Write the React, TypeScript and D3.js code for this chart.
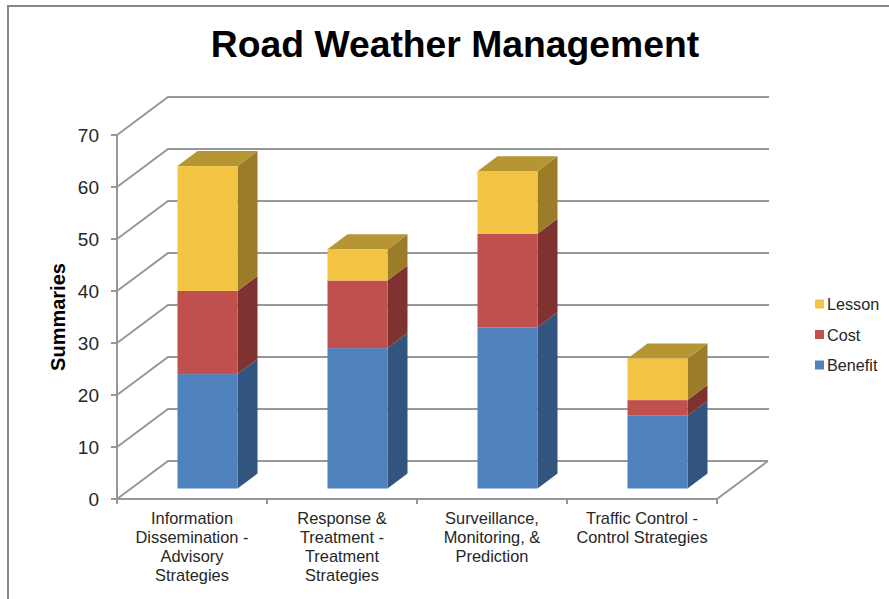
import React from "react";
import * as d3 from "d3";

const categories = [
  ["Information", "Dissemination -", "Advisory", "Strategies"],
  ["Response &", "Treatment -", "Treatment", "Strategies"],
  ["Surveillance,", "Monitoring, &", "Prediction"],
  ["Traffic Control -", "Control Strategies"],
];
const benefit = [22, 27, 31, 14];
const cost = [16, 13, 18, 3];
const lesson = [24, 6, 12, 8];
const seriesNames = ["Benefit", "Cost", "Lesson"];
const yTicks = [0, 10, 20, 30, 40, 50, 60, 70];

const front = ["#4f81bd", "#c0504d", "#f3c443"];
const side = ["#31557f", "#7f322f", "#9a7c29"];
const top = ["#3d648f", "#913c3a", "#b59632"];
const GRID = "#979797";
const TEXT = "#262626";

export default function App() {
  const y = d3.scaleLinear().domain([0, 70]).range([499, 135]);
  const x = d3.scaleLinear().domain([0, 4]).range([117, 717]);
  const wallDx = 51, wallDy = -38;
  const barDx = 20, barDy = -15;
  const barInset = 60.5, barW = 60, baseShift = -10.5;
  const table = categories.map((_, i) => ({ i, Benefit: benefit[i], Cost: cost[i], Lesson: lesson[i] }));
  const stacked = d3.stack<any>().keys(seriesNames)(table);

  return (
    <svg width={889} height={599} style={{ position: "absolute", left: 0, top: 0, background: "#fff" }}
      fontFamily="Liberation Sans, Arial, sans-serif">
      <path d="M8 599V6H889" fill="none" stroke="#868686" strokeWidth={2} />
      <text x={455} y={57} textAnchor="middle" fontSize={37.3} fontWeight={700} fill="#000">Road Weather Management</text>
      <text transform="translate(65,317) rotate(-90)" textAnchor="middle" fontSize={20} fontWeight={700} fill="#000">Summaries</text>

      {/* walls and grid */}
      {yTicks.map((t) => (
        <g key={t}>
          <path d={`M${x(0)} ${y(t)}L${x(0) + wallDx} ${y(t) + wallDy}H${t === 0 ? x(4) + wallDx : 769}`}
            fill="none" stroke={GRID} strokeWidth={2} />
          <line x1={x(0) - 6} x2={x(0)} y1={y(t)} y2={y(t)} stroke={GRID} strokeWidth={2} />
          <text x={99} y={y(t) + 7} textAnchor="end" fontSize={19} fill={TEXT}>{t}</text>
        </g>
      ))}
      <path d={`M${x(4)} ${y(0)}L${x(4) + wallDx} ${y(0) + wallDy}`} fill="none" stroke={GRID} strokeWidth={2} />
      <path d={`M${x(0)} ${y(70)}V${y(0)}H${x(4)}`} fill="none" stroke={GRID} strokeWidth={2} />
      {d3.range(5).map((i) => (
        <line key={i} x1={x(i)} x2={x(i)} y1={y(0)} y2={y(0) + 5} stroke={GRID} strokeWidth={2} />
      ))}

      {/* bars */}
      {stacked.map((s, si) => s.map((d, i) => {
        const x0 = x(i) + barInset;
        const x1 = x0 + barW;
        const y0 = y(d[0]) + baseShift;
        const y1 = y(d[1]) + baseShift;
        return (
          <g key={`${si}-${i}`}>
            <path d={`M${x1} ${y0}L${x1 + barDx} ${y0 + barDy}V${y1 + barDy}L${x1} ${y1}Z`} fill={side[si]} />
            <rect x={x0} y={y1} width={barW} height={y0 - y1} fill={front[si]} />
            {si === stacked.length - 1 ? (
              <path d={`M${x0} ${y1}L${x0 + barDx} ${y1 + barDy}H${x1 + barDx}L${x1} ${y1}Z`} fill={top[si]} />
            ) : null}
          </g>
        );
      }))}

      {/* category labels */}
      {categories.map((lines, i) => (
        <text key={i} textAnchor="middle" fontSize={16.4} fill={TEXT}>
          {lines.map((l, k) => (
            <tspan key={k} x={(x(i) + x(i + 1)) / 2} y={524 + k * 19}>{l}</tspan>
          ))}
        </text>
      ))}

      {/* legend */}
      {[...seriesNames].reverse().map((n, k) => {
        const si = seriesNames.indexOf(n);
        const ly = 304 + k * 30.5;
        return (
          <g key={n}>
            <rect x={815} y={ly - 4.5} width={9} height={9} fill={front[si]} />
            <text x={827} y={ly + 6} fontSize={16.2} fill={TEXT}>{n}</text>
          </g>
        );
      })}
    </svg>
  );
}
